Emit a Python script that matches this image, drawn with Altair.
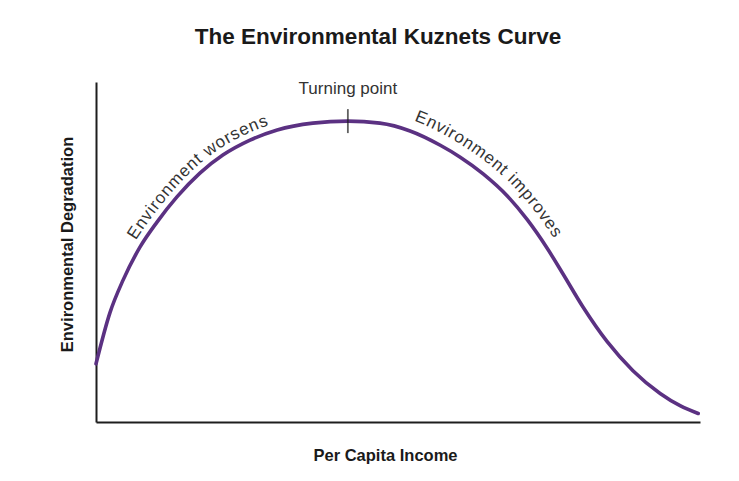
import altair as alt
import numpy as np
import pandas as pd

# ---- data ----
income = [0.0, 2.3, 4.5, 7.3, 10.1, 13.4, 17.2, 21.0, 25.5, 30.0, 35.9, 41.7, 47.0,
          52.0, 57.0, 60.3, 64.1, 68.1, 71.4, 74.7, 77.3, 80.6, 84.6, 88.9, 93.4, 96.7, 99.7]
degradation = [17.1, 32.1, 41.8, 51.5, 58.8, 66.2, 73.2, 78.5, 82.9, 85.9, 87.9, 88.5, 87.9,
               85.6, 81.4, 77.9, 73.0, 66.5, 59.5, 51.1, 43.6, 33.9, 23.7, 15.1, 8.4, 4.8, 2.5]
turning_label = ["Turning point"]
curve_labels = ["Environment worsens", "Environment improves"]
label_start_income = [7.6, 52.0]   # where each curved label begins along the curve

W, H = 604, 340
FONT = "Liberation Sans"
CURVE_FS = 17
TRACK = 0.9
OFFSETS = [7.0, 11.0]

# Arial / Liberation Sans advance widths (per 1000 em)
ADV = {"E": 667, "n": 556, "v": 500, "i": 222, "r": 333, "o": 556, "m": 833, "e": 556,
       "t": 278, " ": 278, "w": 722, "s": 500, "p": 556}

curve_df = pd.DataFrame({"income": income, "degradation": degradation})

# ---- monotone-x interpolation in pixel space (same as d3 curveMonotoneX) ----
px = np.array(income) / 100 * W
py = H - np.array(degradation) / 100 * H
n = len(px)
t = np.zeros(n)
for i in range(1, n - 1):
    h0 = px[i] - px[i - 1]
    h1 = px[i + 1] - px[i]
    s0 = (py[i] - py[i - 1]) / h0
    s1 = (py[i + 1] - py[i]) / h1
    p = (s0 * h1 + s1 * h0) / (h0 + h1)
    t[i] = (np.sign(s0) + np.sign(s1)) * min(abs(s0), abs(s1), 0.5 * abs(p))
t[0] = (3 * (py[1] - py[0]) / (px[1] - px[0]) - t[1]) / 2
t[-1] = (3 * (py[-1] - py[-2]) / (px[-1] - px[-2]) - t[-2]) / 2

dx_list, dy_list = [], []
for i in range(n - 1):
    h = px[i + 1] - px[i]
    u = np.linspace(0, 1, 60, endpoint=(i == n - 2))
    h00 = 2 * u**3 - 3 * u**2 + 1
    h10 = u**3 - 2 * u**2 + u
    h01 = -2 * u**3 + 3 * u**2
    h11 = u**3 - u**2
    dx_list.append(px[i] + u * h)
    dy_list.append(h00 * py[i] + h10 * h * t[i] + h01 * py[i + 1] + h11 * h * t[i + 1])
cx = np.concatenate(dx_list)
cy = np.concatenate(dy_list)
gx = np.gradient(cx)
gy = np.gradient(cy)
gl = np.hypot(gx, gy)
tx, ty = gx / gl, gy / gl
nx, ny = ty, -tx  # normal pointing to the outside (upper side) of the hump

rows = []
for label, start, off in zip(curve_labels, label_start_income, OFFSETS):
    qx = cx + off * nx
    qy = cy + off * ny
    seg = np.hypot(np.diff(qx), np.diff(qy))
    s = np.concatenate([[0], np.cumsum(seg)])
    i0 = int(np.argmin(np.abs(cx - start / 100 * W)))
    pos = s[i0]
    for ch in label:
        w = ADV[ch] * CURVE_FS / 1000
        if ch != " ":
            sc = pos + w / 2
            x_ = np.interp(sc, s, qx)
            y_ = np.interp(sc, s, qy)
            ax = np.interp(sc, s, tx)
            ay = np.interp(sc, s, ty)
            ang = np.degrees(np.arctan2(ay, ax)) % 360
            rows.append({"income": x_ / W * 100, "degradation": (H - y_) / H * 100,
                         "ch": ch, "angle": float(ang)})
        pos += w + TRACK
chars_df = pd.DataFrame(rows)

peak_i = int(np.argmax(degradation))
peak_df = pd.DataFrame({"income": [income[peak_i]], "degradation": [degradation[peak_i]],
                        "label": turning_label})

xs = alt.Scale(domain=[0, 100], nice=False, zero=False)
ys = alt.Scale(domain=[0, 100], nice=False, zero=False)

x_axis = alt.Axis(title="Per Capita Income", labels=False, ticks=False, grid=False,
                  domainColor="#1e1e1e", domainWidth=2, titleFont=FONT, titleFontSize=16.5,
                  titleFontWeight="bold", titleColor="#1a1a1a", titlePadding=25, titleX=289)
y_axis = alt.Axis(title="Environmental Degradation", labels=False, ticks=False, grid=False,
                  domainColor="#1e1e1e", domainWidth=2, titleFont=FONT, titleFontSize=16.5,
                  titleFontWeight="bold", titleColor="#1a1a1a", titlePadding=21, titleY=162)

line = alt.Chart(curve_df).mark_line(
    interpolate="monotone", color="#5b3182", strokeWidth=3.6, strokeCap="round"
).encode(
    x=alt.X("income:Q", scale=xs, axis=x_axis),
    y=alt.Y("degradation:Q", scale=ys, axis=y_axis),
)

tick = alt.Chart(peak_df).mark_tick(
    orient="vertical", size=24, thickness=1.8, color="#1e1e1e"
).encode(x=alt.X("income:Q", scale=xs), y=alt.Y("degradation:Q", scale=ys))

turn = alt.Chart(peak_df).mark_text(
    font=FONT, fontSize=17, color="#333333", dy=-27, baseline="alphabetic", align="center"
).encode(x=alt.X("income:Q", scale=xs), y=alt.Y("degradation:Q", scale=ys), text="label:N")

chars = alt.Chart(chars_df).mark_text(
    font=FONT, fontSize=CURVE_FS, color="#333333", baseline="alphabetic", align="center"
).encode(
    x=alt.X("income:Q", scale=xs),
    y=alt.Y("degradation:Q", scale=ys),
    text="ch:N",
    angle=alt.Angle("angle:Q", scale=None),
)

chart = alt.layer(line, tick, turn, chars).properties(
    width=W, height=H,
    title=alt.TitleParams("The Environmental Kuznets Curve", font=FONT, fontSize=22.5,
                          fontWeight="bold", color="#1a1a1a", anchor="middle", dx=-20,
                          offset=32),
    autosize=alt.AutoSizeParams(type="none"),
    padding={"left": 88, "top": 74, "right": 31, "bottom": 43},
    background="white",
).configure_view(strokeWidth=0)

chart.save("out.html", embed_options={"renderer": "svg", "actions": False})
